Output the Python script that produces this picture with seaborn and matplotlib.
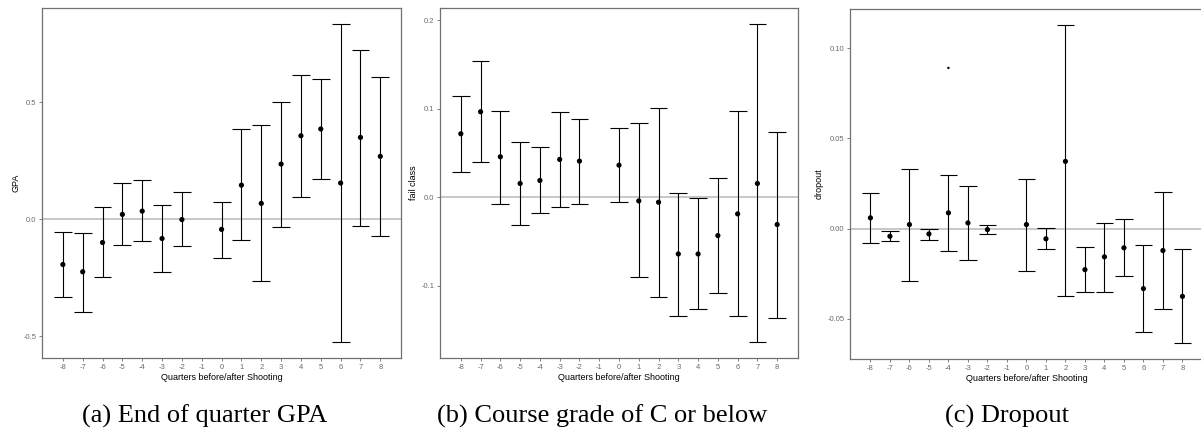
import numpy as np
import pandas as pd
import seaborn as sns
import matplotlib.pyplot as plt

quarters = [-8, -7, -6, -5, -4, -3, -2, 0, 1, 2, 3, 4, 5, 6, 7, 8]
tick_quarters = list(range(-8, 9))

# (a) End of quarter GPA
gpa_est = [-0.194, -0.225, -0.100, 0.020, 0.034, -0.083, -0.002, -0.044,
           0.145, 0.067, 0.235, 0.356, 0.385, 0.154, 0.349, 0.268]
gpa_lo = [-0.333, -0.397, -0.248, -0.111, -0.094, -0.228, -0.115, -0.165,
          -0.090, -0.264, -0.033, 0.095, 0.171, -0.526, -0.030, -0.071]
gpa_hi = [-0.056, -0.059, 0.050, 0.156, 0.167, 0.062, 0.117, 0.075,
          0.385, 0.402, 0.501, 0.615, 0.597, 0.833, 0.722, 0.609]

# (b) Course grade of C or below
fail_est = [0.0717, 0.0966, 0.0457, 0.0155, 0.0189, 0.0427, 0.0408, 0.0362,
            -0.0042, -0.0057, -0.0642, -0.0642, -0.0434, -0.0189, 0.0155, -0.0309]
fail_lo = [0.0283, 0.0396, -0.0079, -0.0317, -0.0180, -0.0113, -0.0079, -0.0057,
           -0.0906, -0.1125, -0.1340, -0.1270, -0.1087, -0.1340, -0.1642, -0.1363]
fail_hi = [0.1140, 0.1540, 0.0974, 0.0626, 0.0570, 0.0963, 0.0883, 0.0778,
           0.0842, 0.1004, 0.0049, -0.0008, 0.0219, 0.0974, 0.1956, 0.0740]

# (c) Dropout
drop_est = [0.0059, -0.0043, 0.0022, -0.0030, 0.0087, 0.0031, -0.0006, 0.0022,
            -0.0057, 0.0372, -0.0228, -0.0157, -0.0107, -0.0333, -0.0122, -0.0376]
drop_lo = [-0.0079, -0.0070, -0.0289, -0.0061, -0.0126, -0.0172, -0.0033, -0.0233,
           -0.0113, -0.0376, -0.0352, -0.0352, -0.0265, -0.0574, -0.0448, -0.0635]
drop_hi = [0.0198, -0.0013, 0.0332, -0.0002, 0.0296, 0.0235, 0.0022, 0.0276,
           0.0004, 0.1128, -0.0104, 0.0031, 0.0050, -0.0093, 0.0202, -0.0115]
drop_stray_x = [-4]
drop_stray_y = [0.089]

panels = [
    ("GPA", gpa_est, gpa_lo, gpa_hi, [-0.5, 0.0, 0.5], ["-0.5", "0.0", "0.5"],
     (-0.594, 0.901), "(a) End of quarter GPA"),
    ("fail class", fail_est, fail_lo, fail_hi, [-0.1, 0.0, 0.1, 0.2],
     ["-0.1", "0.0", "0.1", "0.2"], (-0.182, 0.2137), "(b) Course grade of C or below"),
    ("dropout", drop_est, drop_lo, drop_hi, [-0.05, 0.0, 0.05, 0.10],
     ["-0.05", "0.00", "0.05", "0.10"], (-0.0723, 0.1216), "(c) Dropout"),
]

sns.set_theme(style="white")
plt.rcParams['font.family'] = ['Liberation Sans', 'DejaVu Sans']

fig = plt.figure(figsize=(12.01, 4.32), dpi=100)
boxes = [[0.035, 0.171, 0.299, 0.810],
         [0.3664, 0.171, 0.298, 0.810],
         [0.7077, 0.169, 0.2939, 0.810]]
caption_x = [205 / 1201, 602 / 1201, 1007 / 1201]

for i, (ylab, est, lo, hi, yt, ytl, ylim, cap) in enumerate(panels):
    ax = fig.add_axes(boxes[i])
    df = pd.DataFrame({"q": quarters, "est": est, "lo": lo, "hi": hi})
    ax.axhline(0, color="#bdbdbd", lw=1.2, zorder=1)
    ax.vlines(df["q"], df["lo"], df["hi"], color="black", lw=0.8, zorder=2)
    ax.hlines(df["lo"], df["q"] - 0.45, df["q"] + 0.45, color="black", lw=0.8, zorder=2)
    ax.hlines(df["hi"], df["q"] - 0.45, df["q"] + 0.45, color="black", lw=0.8, zorder=2)
    sns.scatterplot(data=df, x="q", y="est", ax=ax, color="black", s=14,
                    edgecolor="none", zorder=3)
    if i == 2:
        sns.scatterplot(x=drop_stray_x, y=drop_stray_y, ax=ax, color="black",
                        s=3, edgecolor="none", zorder=3)
    ax.set_xlim(-9.05, 9.05)
    ax.set_ylim(*ylim)
    ax.set_xticks(tick_quarters)
    ax.set_xticklabels([str(q) for q in tick_quarters])
    ax.set_yticks(yt)
    ax.set_yticklabels(ytl)
    ax.tick_params(axis="both", labelsize=5.5, labelcolor="#6b6b6b", color="#6b6b6b",
                   length=2, width=0.6, pad=2, bottom=True, left=True)
    for sp in ax.spines.values():
        sp.set_color("#707070")
        sp.set_linewidth(0.9)
    ax.set_xlabel("Quarters before/after Shooting", fontsize=6.5, labelpad=2,
                  color="black")
    ax.set_ylabel(ylab, fontsize=6.5, labelpad=2.5, color="black")
    fig.text(caption_x[i], 0.037, cap, ha="center", va="center",
             family="Liberation Serif", fontsize=19, color="black")

fig.savefig("out.png", dpi=100)
